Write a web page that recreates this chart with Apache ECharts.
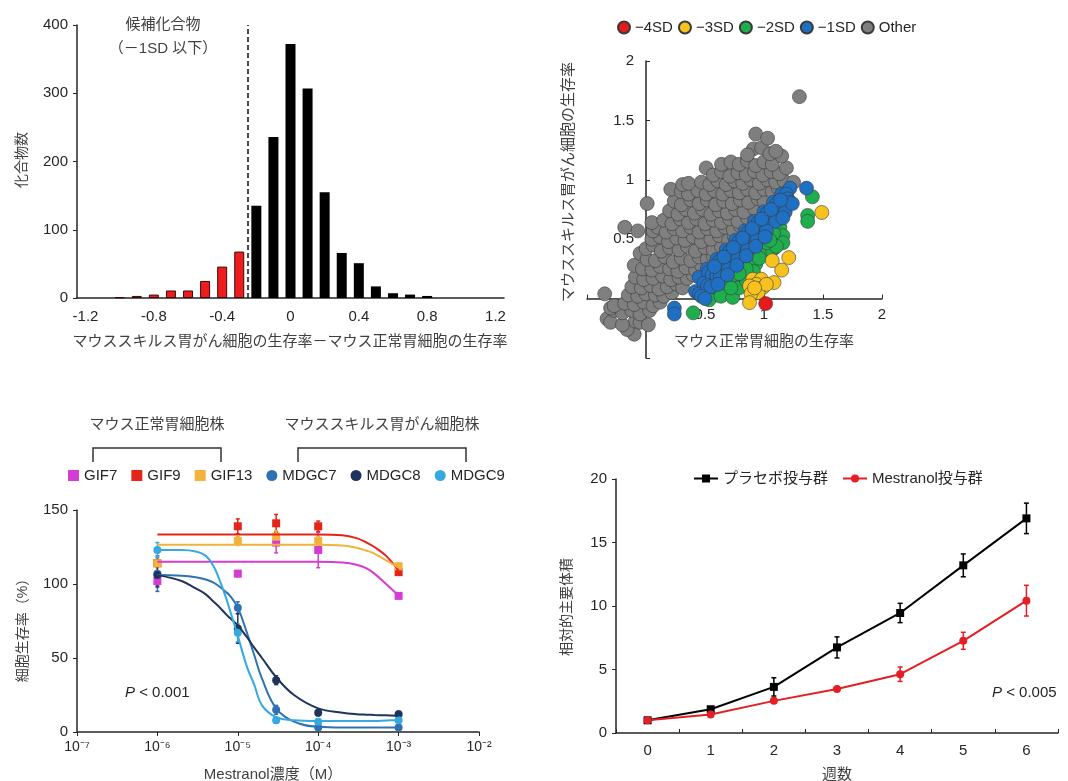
<!DOCTYPE html>
<html>
<head>
<meta charset="utf-8">
<script src="https://cdn.jsdelivr.net/npm/echarts@6/dist/echarts.min.js"></script>
<style>
html, body { margin: 0; padding: 0; background: #fff; }
#main { width: 1068px; height: 781px; }
</style>
</head>
<body>
<div id="main"></div>
<script>
// ---- histogram (top left) ----
var histCenters = [-1.0, -0.9, -0.8, -0.7, -0.6, -0.5, -0.4, -0.3, -0.2, -0.1, 0, 0.1, 0.2, 0.3, 0.4, 0.5, 0.6, 0.7, 0.8];
var histCounts = [1, 3, 5, 11, 11, 25, 46, 68, 135, 236, 372, 307, 155, 66, 51, 17, 7, 5, 3];
var histTicks = [-1.2, -0.8, -0.4, 0, 0.4, 0.8, 1.2];
var cutoff = -0.25;

// ---- scatter (top right) ----
var otherPts = [
    [-0.1, -0.3], [-0.16, -0.26],
    [-0.33, -0.17], [-0.3, -0.2], [-0.09, -0.19], [-0.2, -0.22], [-0.05, -0.2], [0.02, -0.22],
    [-0.27, -0.1], [-0.2, -0.12], [-0.12, -0.1], [-0.05, -0.13], [0.03, -0.1], [-0.3, -0.08],
    [-0.27, -0.06], [-0.18, -0.04], [-0.1, -0.05], [-0.02, -0.03], [0.06, -0.06], [0.12, -0.03],
    [-0.35, 0.04], [-0.15, 0.03], [-0.07, 0.02], [0.0, 0.04], [0.08, 0.03], [0.15, 0.02], [0.22, 0.05],
    [-0.12, 0.1], [-0.04, 0.09], [0.04, 0.11], [0.11, 0.08], [0.18, 0.1], [0.26, 0.12], [0.31, 0.09],
    [-0.09, 0.18], [-0.02, 0.16], [0.06, 0.17], [0.14, 0.19], [0.21, 0.16], [0.28, 0.18], [0.35, 0.17], [0.4, 0.2],
    [-0.1, 0.28], [-0.03, 0.25], [0.05, 0.24], [0.12, 0.27], [0.2, 0.25], [0.27, 0.23], [0.34, 0.26], [0.42, 0.24], [0.47, 0.28],
    [-0.05, 0.38], [0.01, 0.33], [0.08, 0.32], [0.16, 0.35], [0.23, 0.31], [0.3, 0.34], [0.38, 0.32], [0.45, 0.35], [0.52, 0.33], [0.57, 0.36],
    [0.0, 0.42], [0.06, 0.45], [0.13, 0.4], [0.2, 0.43], [0.28, 0.41], [0.35, 0.44], [0.42, 0.4], [0.5, 0.43], [0.57, 0.41], [0.64, 0.44],
    [-0.07, 0.57], [0.05, 0.5], [0.12, 0.52], [0.19, 0.48], [0.26, 0.51], [0.33, 0.49], [0.4, 0.52], [0.47, 0.48], [0.55, 0.5], [0.62, 0.53], [0.7, 0.49], [0.75, 0.52],
    [-0.18, 0.6], [0.06, 0.57], [0.1, 0.6], [0.17, 0.56], [0.24, 0.59], [0.31, 0.57], [0.38, 0.6], [0.45, 0.56], [0.52, 0.59], [0.6, 0.57], [0.67, 0.6], [0.74, 0.58], [0.8, 0.61],
    [0.05, 0.64], [0.15, 0.66], [0.22, 0.63], [0.29, 0.67], [0.36, 0.64], [0.43, 0.67], [0.5, 0.63], [0.57, 0.66], [0.64, 0.64], [0.71, 0.67], [0.78, 0.65], [0.86, 0.68],
    [0.2, 0.74], [0.27, 0.71], [0.34, 0.75], [0.41, 0.72], [0.48, 0.75], [0.55, 0.71], [0.62, 0.74], [0.69, 0.72], [0.76, 0.75], [0.83, 0.73], [0.92, 0.76],
    [0.01, 0.8], [0.24, 0.82], [0.3, 0.79], [0.38, 0.83], [0.45, 0.8], [0.52, 0.83], [0.59, 0.79], [0.66, 0.82], [0.73, 0.8], [0.8, 0.83], [0.87, 0.81], [0.95, 0.84], [1.0, 0.82],
    [0.21, 0.92], [0.3, 0.9], [0.36, 0.88], [0.44, 0.91], [0.51, 0.88], [0.58, 0.91], [0.65, 0.88], [0.72, 0.91], [0.79, 0.89], [0.86, 0.92], [0.93, 0.89], [1.0, 0.92], [1.07, 0.9], [1.12, 0.93],
    [0.31, 0.96], [0.36, 0.97], [0.47, 0.98], [0.54, 0.96], [0.61, 0.99], [0.68, 0.96], [0.75, 0.99], [0.82, 0.97], [0.89, 1.0], [0.96, 0.97], [1.03, 1.0], [1.1, 0.98], [1.17, 0.99], [1.25, 0.98],
    [0.51, 1.1], [0.57, 1.04], [0.64, 1.07], [0.71, 1.03], [0.78, 1.06], [0.85, 1.04], [0.92, 1.07], [0.99, 1.04], [1.06, 1.07], [1.13, 1.05], [1.19, 1.1],
    [0.64, 1.13], [0.72, 1.15], [0.79, 1.13], [0.86, 1.16], [0.93, 1.12], [1.0, 1.15], [1.07, 1.13], [1.15, 1.2],
    [0.91, 1.26], [0.98, 1.27], [0.86, 1.21], [1.05, 1.22], [1.1, 1.24],
    [0.93, 1.385], [1.03, 1.35], [1.3, 1.7]
];
var sd1Pts = [
    [0.45, 0.18], [0.52, 0.25], [0.6, 0.33], [0.68, 0.41], [0.76, 0.49], [0.84, 0.57], [0.92, 0.65], [1.0, 0.73], [1.08, 0.81], [1.15, 0.88], [1.22, 0.93],
    [0.53, 0.22], [0.62, 0.31], [0.71, 0.4], [0.79, 0.48], [0.87, 0.56], [0.95, 0.64], [1.03, 0.72], [1.11, 0.8], [1.19, 0.88],
    [0.42, 0.06], [0.49, 0.13], [0.56, 0.2], [0.64, 0.28], [0.72, 0.36], [0.8, 0.44], [0.88, 0.52], [0.96, 0.6], [1.04, 0.68], [1.12, 0.76], [1.2, 0.84],
    [0.45, 0.04], [0.52, 0.11], [0.6, 0.19], [0.67, 0.26], [0.75, 0.34], [0.83, 0.42], [0.91, 0.5], [0.99, 0.58], [1.07, 0.66], [1.15, 0.74], [1.22, 0.81],
    [0.47, 0.02], [0.55, 0.1], [0.63, 0.18], [0.7, 0.25], [0.78, 0.33], [0.86, 0.41], [0.94, 0.49], [1.02, 0.57], [1.1, 0.65], [1.18, 0.73], [1.24, 0.8],
    [0.5, 0.0], [0.58, 0.27], [0.66, 0.35], [0.74, 0.43], [0.82, 0.51], [0.9, 0.59], [0.98, 0.67], [1.06, 0.75], [1.14, 0.83],
    [0.61, 0.12], [0.69, 0.2], [0.77, 0.28], [0.85, 0.36], [0.93, 0.44], [1.01, 0.52], [1.16, 0.68],
    [0.24, -0.08], [0.24, -0.13], [1.36, 0.93]
];
var sd2Pts = [
    [1.41, 0.857], [1.37, 0.70], [1.37, 0.65], [1.134, 0.6], [1.16, 0.53], [1.16, 0.47], [1.08, 0.42], [1.02, 0.37],
    [1.105, 0.44], [0.96, 0.38], [1.02, 0.47], [0.93, 0.29], [0.88, 0.29], [0.82, 0.205], [0.76, 0.17], [0.72, 0.19],
    [0.68, 0.12], [0.635, 0.08], [0.59, 0.03], [0.535, -0.01], [0.635, 0.02], [0.735, 0.01], [0.79, 0.09], [0.85, 0.15],
    [0.91, 0.23], [0.96, 0.34], [0.40, -0.12], [1.08, 0.55], [1.05, 0.49], [0.85, 0.25], [0.79, 0.21], [0.72, 0.09]
];
var sd3Pts = [
    [1.49, 0.725], [1.21, 0.345], [1.15, 0.24], [1.085, 0.135], [1.07, 0.32], [0.905, 0.163], [0.977, 0.163], [0.934, 0.12],
    [0.877, 0.107], [0.99, 0.093], [0.95, 0.05], [0.89, 0.042], [1.02, 0.12], [0.92, 0.09], [0.877, -0.034]
];
var sd4Pts = [[1.014, -0.042]];

// ---- dose response (bottom left) ----
var doseConc = [1e-6, 1e-5, 3e-5, 1e-4, 1e-3];
var gif7Mean = [102, 107, 128, 123, 92];
var gif7Err = [3, 2, 7, 12, 2];
var gif9Mean = [114, 139, 141, 139, 108];
var gif9Err = [0, 5, 6, 3.5, 2];
var gif13Mean = [114, 129, 132, 129, 112];
var gif13Err = [3, 3, 4, 3, 2];
var mdgc7Mean = [107, 84, 15, 3, 3];
var mdgc7Err = [12, 4, 3, 1, 1];
var mdgc8Mean = [106, 70, 35, 13, 12];
var mdgc8Err = [8, 10, 3, 2, 2];
var mdgc9Mean = [123, 67, 8, 7, 8];
var mdgc9Err = [5, 6, 2, 1, 1];

var fitConc = [1e-6, 2e-6, 3e-6, 4e-6, 5e-6, 6e-6, 7e-6, 8e-6, 1e-5, 1.3e-5, 1.6e-5, 2e-5, 3e-5, 5e-5, 1e-4, 2e-4, 3e-4, 4e-4, 5e-4, 7e-4, 1e-3];
var gif7Fit = [115, 115, 115, 115, 115, 115, 115, 115, 115, 115, 115, 115, 115, 115, 115, 114.5, 113, 110.5, 107, 100, 92];
var gif9Fit = [133.5, 133.5, 133.5, 133.5, 133.5, 133.5, 133.5, 133.5, 133.5, 133.5, 133.5, 133.5, 133.5, 133.5, 133.5, 133, 131, 128, 125, 119, 109];
var gif13Fit = [126.5, 126.5, 126.5, 126.5, 126.5, 126.5, 126.5, 126.5, 126.5, 126.5, 126.5, 126.5, 126.5, 126.5, 126.5, 126, 124.5, 122.5, 120.5, 116, 111];
var mdgc7Fit = [106, 105.5, 104.5, 103, 101, 98, 95, 92, 84, 67, 52, 36, 16, 7, 3.5, 3, 3, 3, 3, 3, 3];
var mdgc8Fit = [106, 102, 97, 93, 88, 84, 80, 77, 72, 64, 57, 50, 37, 25, 16, 13, 12, 11.7, 11.5, 11.3, 11];
var mdgc9Fit = [123, 123, 122, 119, 112, 102, 92, 82, 65, 44, 32, 18, 10, 8, 7.5, 7.5, 7.5, 7.5, 7.5, 7.8, 8];

// ---- tumour volume (bottom right) ----
var weeks = ['0', '1', '2', '3', '4', '5', '6'];
var placeboMean = [1.0, 1.87, 3.63, 6.74, 9.45, 13.2, 16.9];
var placeboErr = [0.05, 0.15, 0.72, 0.83, 0.76, 0.9, 1.2];
var mestMean = [1.0, 1.45, 2.53, 3.47, 4.63, 7.26, 10.42];
var mestErr = [0.05, 0.1, 0.15, 0.15, 0.57, 0.67, 1.21];

var FONT = "'Liberation Sans', 'Noto Sans CJK JP', sans-serif";
var INK = '#262626';
var TITLE = '#404040';

function pairs(xs, ys) {
    return xs.map(function (x, i) { return [x, ys[i]]; });
}
function errRows(xs, mean, err) {
    return xs.map(function (x, i) { return [x, mean[i] - err[i], mean[i] + err[i]]; });
}
function errorBars(cap, width) {
    return function (params, api) {
        var x = api.value(0);
        var top = api.coord([x, api.value(2)]);
        var bot = api.coord([x, api.value(1)]);
        var st = { stroke: api.visual('color'), lineWidth: width };
        return {
            type: 'group',
            children: [
                { type: 'line', shape: { x1: top[0], y1: top[1], x2: bot[0], y2: bot[1] }, style: st },
                { type: 'line', shape: { x1: top[0] - cap, y1: top[1], x2: top[0] + cap, y2: top[1] }, style: st },
                { type: 'line', shape: { x1: bot[0] - cap, y1: bot[1], x2: bot[0] + cap, y2: bot[1] }, style: st }
            ]
        };
    };
}
function text(x, y, str, size, rot, extra) {
    return {
        type: 'text', x: x, y: y, rotation: rot || 0, silent: true,
        style: Object.assign({
            text: str, fontSize: size, fontFamily: FONT, fill: TITLE,
            align: 'center', verticalAlign: 'middle', textAlign: 'center', textVerticalAlign: 'middle'
        }, extra || {})
    };
}
var SUP = { '-': '⁻', '0': '⁰', '1': '¹', '2': '²', '3': '³', '4': '⁴', '5': '⁵', '6': '⁶', '7': '⁷', '8': '⁸', '9': '⁹' };
function powLabel(v) {
    var e = String(Math.round(Math.log(v) / Math.LN10));
    return '10' + e.split('').map(function (c) { return SUP[c]; }).join('');
}
function axisLine() { return { show: true, onZero: false, lineStyle: { color: INK, width: 1.5 } }; }
function lab(extra) { return Object.assign({ color: INK, fontSize: 15, fontFamily: FONT }, extra); }

var doseCols = { GIF7: '#d43cd4', GIF9: '#e3241b', GIF13: '#f2b33d', MDGC7: '#2e72b3', MDGC8: '#1f335c', MDGC9: '#36a9e0' };
var doseSets = [
    ['GIF7', 'rect', gif7Mean, gif7Err, gif7Fit],
    ['GIF9', 'rect', gif9Mean, gif9Err, gif9Fit],
    ['GIF13', 'rect', gif13Mean, gif13Err, gif13Fit],
    ['MDGC7', 'circle', mdgc7Mean, mdgc7Err, mdgc7Fit],
    ['MDGC8', 'circle', mdgc8Mean, mdgc8Err, mdgc8Fit],
    ['MDGC9', 'circle', mdgc9Mean, mdgc9Err, mdgc9Fit]
];

var series = [];

// histogram bars
series.push({
    type: 'bar', xAxisIndex: 0, yAxisIndex: 0, barWidth: 10,
    data: histCenters.map(function (c, i) {
        return {
            value: [c, histCounts[i]],
            itemStyle: c < cutoff
                ? { color: '#ee1c1c', borderColor: '#3a0a0a', borderWidth: 1 }
                : { color: '#000000' }
        };
    }),
    markLine: {
        silent: true, symbol: 'none', label: { show: false },
        lineStyle: { color: '#111', type: [5, 3], width: 1.5 },
        data: [{ xAxis: cutoff }]
    }
});

// scatter (blue drawn over green, like the source)
[['Other', '#7f7f7f', otherPts], ['−2SD', '#1fae4e', sd2Pts], ['−1SD', '#1f6fc2', sd1Pts],
 ['−3SD', '#f7c21d', sd3Pts], ['−4SD', '#e41a1c', sd4Pts]].forEach(function (s) {
    series.push({
        name: s[0], type: 'scatter', xAxisIndex: 1, yAxisIndex: 1, symbolSize: 14,
        itemStyle: { color: s[1], borderColor: '#3a3a3a', borderWidth: 0.6, opacity: 1 },
        data: s[2]
    });
});

// dose response: fits, error bars, points
doseSets.forEach(function (d) {
    series.push({
        name: d[0] + ' fit', type: 'line', xAxisIndex: 2, yAxisIndex: 2, smooth: 0.4,
        showSymbol: false, lineStyle: { color: doseCols[d[0]], width: 2 }, itemStyle: { color: doseCols[d[0]] },
        data: pairs(fitConc, d[4])
    });
});
doseSets.forEach(function (d) {
    series.push({
        name: d[0] + ' err', type: 'custom', xAxisIndex: 2, yAxisIndex: 2,
        itemStyle: { color: doseCols[d[0]] }, encode: { x: 0, y: [1, 2] },
        renderItem: errorBars(2, 1.5), data: errRows(doseConc, d[2], d[3])
    });
});
doseSets.forEach(function (d) {
    series.push({
        name: d[0], type: 'scatter', xAxisIndex: 2, yAxisIndex: 2, symbol: d[1], symbolSize: 8,
        itemStyle: { color: doseCols[d[0]], opacity: 1 }, data: pairs(doseConc, d[2])
    });
});

// tumour volume
var idx = weeks.map(function (w, i) { return i; });
series.push({
    name: 'プラセボ投与群', type: 'line', xAxisIndex: 3, yAxisIndex: 3, symbol: 'rect', symbolSize: 8,
    lineStyle: { color: '#000', width: 2 }, itemStyle: { color: '#000' }, data: placeboMean
});
series.push({
    name: 'Mestranol投与群', type: 'line', xAxisIndex: 3, yAxisIndex: 3, symbol: 'circle', symbolSize: 8,
    lineStyle: { color: '#e31e24', width: 2 }, itemStyle: { color: '#e31e24' }, data: mestMean
});
series.push({
    name: 'placebo err', type: 'custom', xAxisIndex: 3, yAxisIndex: 3, itemStyle: { color: '#000' },
    encode: { x: 0, y: [1, 2] }, renderItem: errorBars(2.5, 1.5), data: errRows(idx, placeboMean, placeboErr)
});
series.push({
    name: 'mest err', type: 'custom', xAxisIndex: 3, yAxisIndex: 3, itemStyle: { color: '#e31e24' },
    encode: { x: 0, y: [1, 2] }, renderItem: errorBars(2.5, 1.5), data: errRows(idx, mestMean, mestErr)
});

var option = {
    backgroundColor: '#fff',
    animation: false,
    textStyle: { fontFamily: FONT },
    grid: [
        { left: 77, top: 25, width: 427, height: 273, outerBoundsMode: 'none' },
        { left: 587, top: 61, width: 295, height: 297, outerBoundsMode: 'none' },
        { left: 77, top: 510, width: 402, height: 222, outerBoundsMode: 'none' },
        { left: 616, top: 479, width: 442, height: 254, outerBoundsMode: 'none' }
    ],
    xAxis: [
        {
            gridIndex: 0, type: 'value', min: -1.25, max: 1.25,
            axisLine: axisLine(), axisTick: { show: false }, splitLine: { show: false },
            axisLabel: lab({ customValues: histTicks, margin: 11, formatter: function (v) { return String(v); } })
        },
        {
            // the zero line sits 0.5/2.5 of the grid above the bottom edge
            gridIndex: 1, type: 'value', min: -0.5, max: 2, interval: 0.5, position: 'bottom', offset: -59.4,
            axisLine: axisLine(),
            axisTick: { show: true, inside: true, length: 4, lineStyle: { color: INK } },
            splitLine: { show: false },
            axisLabel: lab({ margin: 9, formatter: function (v) { return v > 0 ? String(v) : ''; } })
        },
        {
            gridIndex: 2, type: 'log', logBase: 10, min: 1e-7, max: 1e-2,
            axisLine: axisLine(), axisTick: { show: true, length: 4, lineStyle: { color: INK } },
            splitLine: { show: false }, minorTick: { show: false },
            axisLabel: lab({ fontSize: 14, margin: 8, formatter: powLabel })
        },
        {
            gridIndex: 3, type: 'category', data: weeks, boundaryGap: true,
            axisLine: axisLine(), axisTick: { show: true, inside: true, length: 4, lineStyle: { color: INK } },
            splitLine: { show: false },
            axisLabel: lab({ margin: 10 })
        }
    ],
    yAxis: [
        {
            gridIndex: 0, type: 'value', min: 0, max: 400, interval: 100,
            axisLine: axisLine(), axisTick: { show: true, length: 4, lineStyle: { color: INK } },
            splitLine: { show: false }, axisLabel: lab({ margin: 9 })
        },
        {
            gridIndex: 1, type: 'value', min: -0.5, max: 2, interval: 0.5, position: 'left', offset: -59,
            axisLine: axisLine(),
            axisTick: { show: true, inside: true, length: 4, lineStyle: { color: INK } },
            splitLine: { show: false },
            axisLabel: lab({ margin: 12, formatter: function (v) { return v > 0 ? String(v) : ''; } })
        },
        {
            gridIndex: 2, type: 'value', min: 0, max: 150, interval: 50,
            axisLine: axisLine(), axisTick: { show: true, length: 4, lineStyle: { color: INK } },
            splitLine: { show: false }, axisLabel: lab({ margin: 9 })
        },
        {
            gridIndex: 3, type: 'value', min: 0, max: 20, interval: 5,
            axisLine: axisLine(), axisTick: { show: true, length: 4, lineStyle: { color: INK } },
            splitLine: { show: false }, axisLabel: lab({ margin: 9 })
        }
    ],
    legend: [
        {
            left: 612, top: 15, itemWidth: 12, itemHeight: 12, itemGap: 5, icon: 'circle',
            textStyle: { color: INK, fontSize: 15, fontFamily: FONT },
            data: ['−4SD', '−3SD', '−2SD', '−1SD', 'Other'],
            selectedMode: false
        },
        {
            left: 63, top: 463, itemWidth: 11, itemHeight: 11, itemGap: 14,
            textStyle: { color: INK, fontSize: 15, fontFamily: FONT },
            data: [
                { name: 'GIF7', icon: 'rect' }, { name: 'GIF9', icon: 'rect' }, { name: 'GIF13', icon: 'rect' },
                { name: 'MDGC7', icon: 'circle' }, { name: 'MDGC8', icon: 'circle' }, { name: 'MDGC9', icon: 'circle' }
            ],
            selectedMode: false
        },
        {
            left: 688, top: 466, itemWidth: 24, itemHeight: 10, itemGap: 14,
            textStyle: { color: INK, fontSize: 15, fontFamily: FONT },
            data: ['プラセボ投与群', 'Mestranol投与群'],
            selectedMode: false
        }
    ],
    graphic: [
        text(163, 25, '候補化合物', 15),
        text(163, 49, '（－1SD 以下）', 15),
        text(22, 160, '化合物数', 14, Math.PI / 2),
        text(290, 342, 'マウススキルス胃がん細胞の生存率－マウス正常胃細胞の生存率', 15),
        text(569, 182, 'マウススキルス胃がん細胞の生存率', 15, Math.PI / 2),
        text(764, 342, 'マウス正常胃細胞の生存率', 15),
        text(157, 425, 'マウス正常胃細胞株', 15),
        text(382, 425, 'マウススキルス胃がん細胞株', 15),
        {
            type: 'polyline', silent: true,
            shape: { points: [[93, 462], [93, 448], [221, 448], [221, 462]] },
            style: { stroke: '#333', lineWidth: 1.5, fill: null }
        },
        {
            type: 'polyline', silent: true,
            shape: { points: [[298, 462], [298, 448], [466, 448], [466, 462]] },
            style: { stroke: '#333', lineWidth: 1.5, fill: null }
        },
        text(23, 627, '細胞生存率（%）', 14, Math.PI / 2),
        text(273, 775, 'Mestranol濃度（M）', 15),
        text(125, 693, '{i|P} < 0.001', 15, 0, {
            align: 'left', textAlign: 'left', fill: INK,
            rich: { i: { fontStyle: 'italic', fontSize: 15, fontFamily: FONT, fill: INK } }
        }),
        text(567, 607, '相対的主要体積', 14, Math.PI / 2),
        text(837, 775, '週数', 15),
        text(992, 693, '{i|P} < 0.005', 15, 0, {
            align: 'left', textAlign: 'left', fill: INK,
            rich: { i: { fontStyle: 'italic', fontSize: 15, fontFamily: FONT, fill: INK } }
        })
    ],
    series: series
};

var chart = echarts.init(document.getElementById('main'));
chart.setOption(option);
</script>
</body>
</html>
